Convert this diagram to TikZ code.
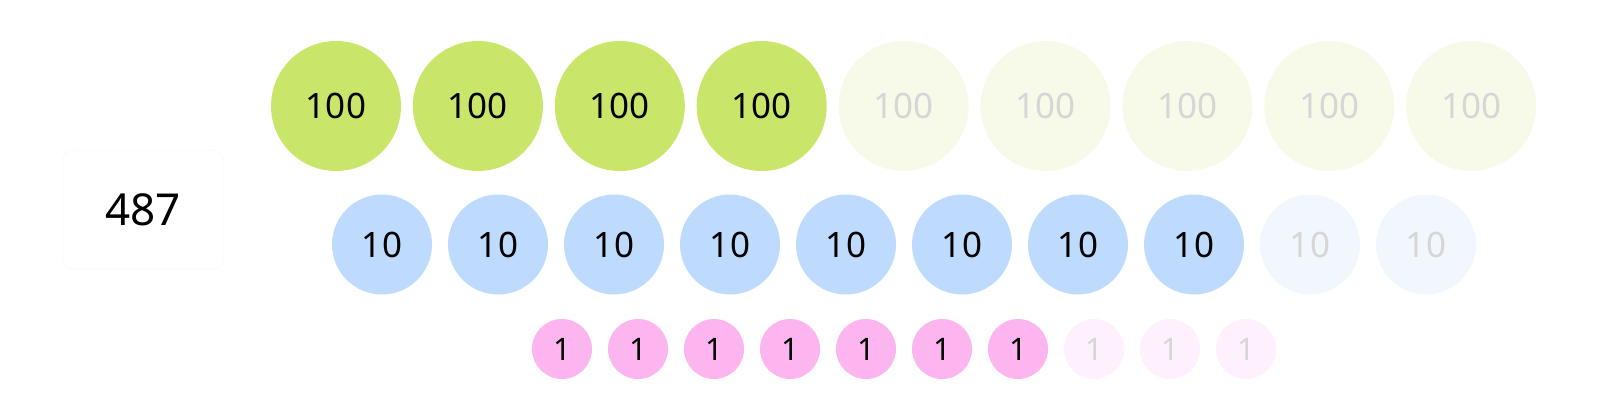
\documentclass[tikz,border=0pt]{standalone}
\usepackage{fontspec}
\setmainfont{Noto Sans}
\usepackage{xcolor}
\usetikzlibrary{positioning}

\definecolor{hundred}{HTML}{C9E66B}
\definecolor{hundredfade}{HTML}{F7FAE8}
\definecolor{ten}{HTML}{BEDBFD}
\definecolor{tenfade}{HTML}{F2F7FE}
\definecolor{one}{HTML}{FDB5EF}
\definecolor{onefade}{HTML}{FEF0FC}
\definecolor{fadetext}{HTML}{D6D6D6}
\definecolor{boxedge}{HTML}{FBF6FB}

\begin{document}
\begin{tikzpicture}[
    x=1pt, y=-1pt,
    coin/.style={circle, inner sep=0pt, text=black},
    big/.style={coin, minimum size=130pt, fill=hundred, font=\fontsize{35}{35}\selectfont},
    mid/.style={coin, minimum size=100pt, fill=ten, font=\fontsize{35}{35}\selectfont},
    small/.style={coin, minimum size=60pt, fill=one, font=\fontsize{31}{31}\selectfont},
    faded/.style={text=fadetext},
    total/.style={rectangle, rounded corners=10pt, draw=boxedge, line width=0.6pt, minimum width=160pt, minimum height=119pt, font=\fontsize{44}{44}\selectfont}
]
    \useasboundingbox (0,0) rectangle (1600,420);

    \node (num) [total] at (143,209.5) {487};

    % hundreds: 4 used, 5 left
    \foreach \i in {1,...,9} {
        \ifnum\i>4
            \node (h\i) [big, fill=hundredfade, faded] at ({336+141.9*(\i-1)},106) {100};
        \else
            \node (h\i) [big] at ({336+141.9*(\i-1)},106) {100};
        \fi
    }

    % tens: 8 used, 2 left
    \foreach \i in {1,...,10} {
        \ifnum\i>8
            \node (t\i) [mid, fill=tenfade, faded] at ({382+116*(\i-1)},244.5) {10};
        \else
            \node (t\i) [mid] at ({382+116*(\i-1)},244.5) {10};
        \fi
    }

    % ones: 7 used, 3 left
    \foreach \i in {1,...,10} {
        \ifnum\i>7
            \node (o\i) [small, fill=onefade, faded] at ({562+76*(\i-1)},349) {1};
        \else
            \node (o\i) [small] at ({562+76*(\i-1)},349) {1};
        \fi
    }
\end{tikzpicture}
\end{document}
